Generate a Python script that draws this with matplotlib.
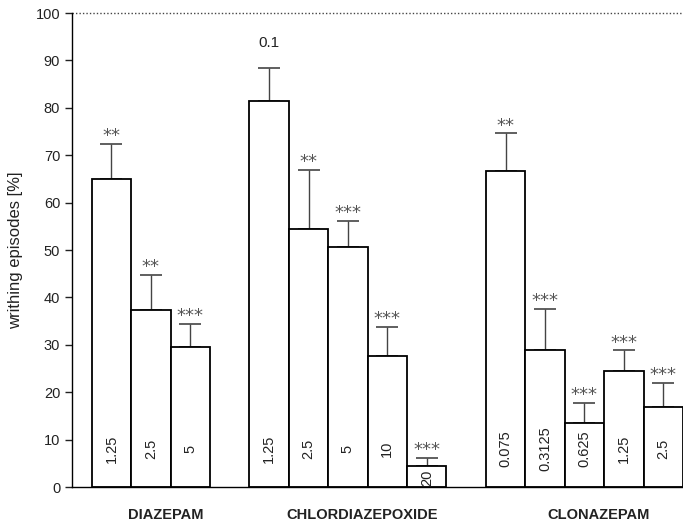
import numpy as np
import matplotlib.pyplot as plt

plt.rcParams['font.family'] = ['Liberation Sans', 'DejaVu Sans']

# writhing episodes, % of control (mean + SEM)
groups = ["DIAZEPAM", "CHLORDIAZEPOXIDE", "CLONAZEPAM"]
doses = [["1.25", "2.5", "5"],
         ["1.25", "2.5", "5", "10", "20"],
         ["0.075", "0.3125", "0.625", "1.25", "2.5"]]
means = [[65.0, 37.3, 29.5],
         [81.5, 54.5, 50.7, 27.6, 4.5],
         [66.7, 29.0, 13.6, 24.4, 16.9]]
sems = [[7.4, 7.4, 4.9],
        [6.9, 12.4, 5.4, 6.1, 1.7],
        [7.9, 8.6, 4.2, 4.4, 5.1]]
signif = [["**", "**", "***"],
          ["0.1", "**", "***", "***", "***"],
          ["**", "***", "***", "***", "***"]]
group_start = [0, 4, 10]

fig = plt.figure(figsize=(6.83, 5.27), dpi=100)
ax = fig.add_axes([0.1054, 0.0759, 0.8946, 0.8994])

for g in range(len(groups)):
    n = len(means[g])
    x = group_start[g] + np.arange(n) + 0.5
    ax.bar(x, means[g], width=1.0, color='white', edgecolor='black',
           linewidth=1.3, zorder=2)
    ax.errorbar(x, means[g], yerr=[np.zeros(n), sems[g]], fmt='none',
                ecolor='#444444', elinewidth=1.0, capsize=8, capthick=1.2,
                zorder=1)
    for i in range(n):
        top = means[g][i] + sems[g][i]
        lab = signif[g][i]
        if lab.startswith("*"):
            ax.text(x[i], top + 0.6, lab, ha='center', va='baseline',
                    fontsize=13, color='#555555', family='DejaVu Sans')
        else:
            ax.text(x[i], 93.7, lab, ha='center', va='center',
                    fontsize=11, color='#222222')
        ypos = 8.0 if means[g][i] > 12 else 2.0
        ax.text(x[i], ypos, doses[g][i], rotation=90, ha='center',
                va='center', fontsize=10.5, color='#222222')
    # group names sit a little right of the group centre
    ax.text(group_start[g] + n / 2.0 + 0.37, -5.9, groups[g], ha='center',
            va='center', fontsize=10.5, fontweight='bold', color='#222222')

ax.axhline(100, color='#444444', linestyle=(0, (1, 1.5)), linewidth=1.0,
           clip_on=False)

ax.set_xlim(-0.5, 15.0)
ax.set_ylim(0, 100)
ax.set_yticks(np.arange(0, 101, 10))
ax.set_xticks([])
ax.spines['top'].set_visible(False)
ax.spines['right'].set_visible(False)
ax.spines['left'].set_linewidth(1.0)
ax.spines['bottom'].set_linewidth(1.0)
ax.tick_params(axis='y', direction='out', length=5, width=1.0,
               labelsize=10.5, colors='#222222')
ax.set_ylabel("writhing episodes [%]", fontsize=12, color='#222222',
              labelpad=9)

fig.savefig("out.png", dpi=100)
